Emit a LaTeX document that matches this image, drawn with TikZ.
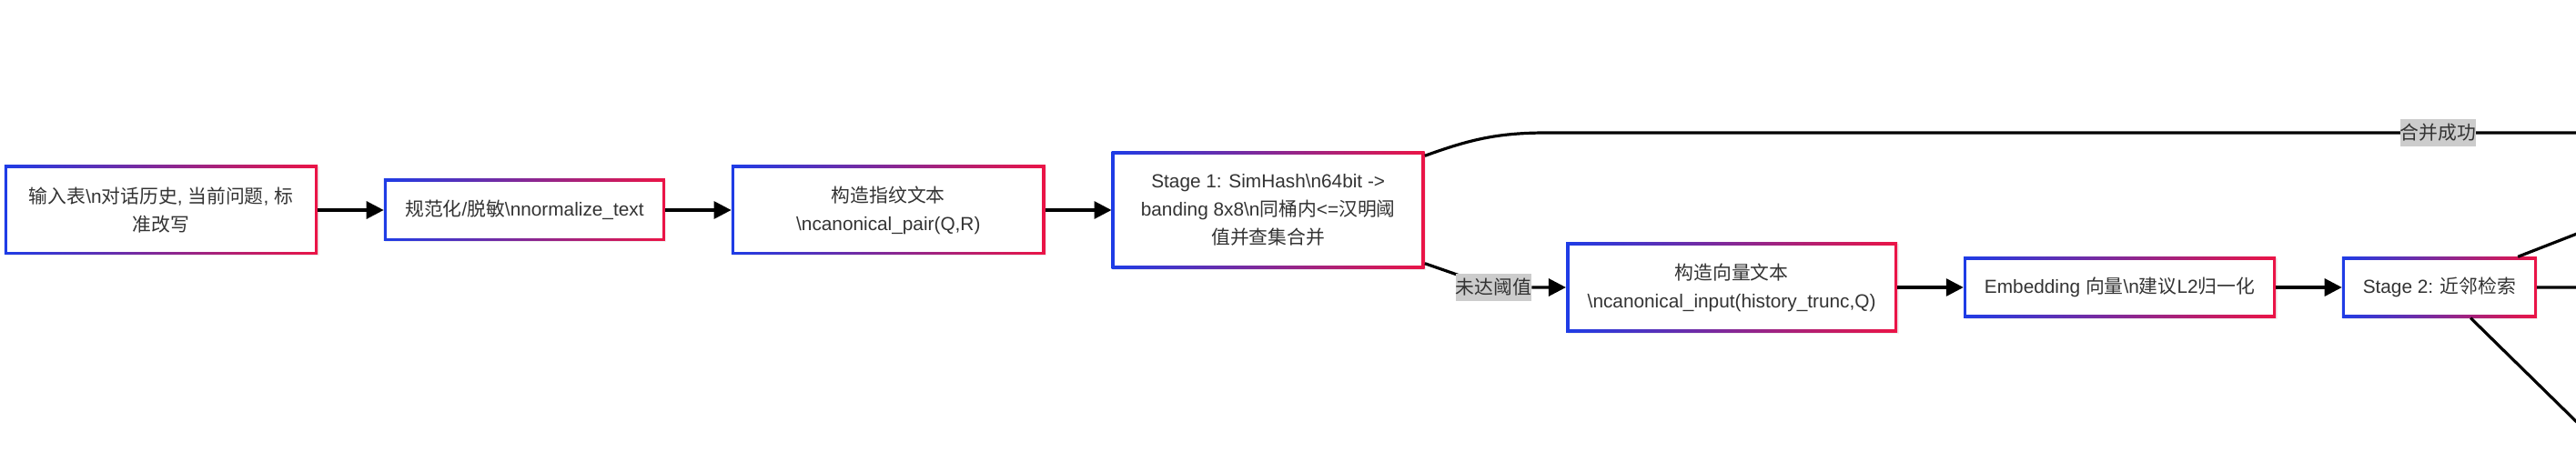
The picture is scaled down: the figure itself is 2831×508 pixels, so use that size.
\documentclass[tikz,border=0pt]{standalone}
\usepackage{fontspec}
\setmainfont{Liberation Sans}
\newfontfamily\cjk{Noto Sans CJK SC}
\usepackage{xcolor}
\usepackage{tikz}
\usetikzlibrary{arrows.meta,positioning,shadows}

\definecolor{gblue}{HTML}{1E3CE6}
\definecolor{gred}{HTML}{EB1446}
\definecolor{txt}{HTML}{333333}
\newcommand{\zh}[1]{{\cjk #1}}

\begin{document}
\begin{tikzpicture}[
    x=1bp, y=-1bp,
    node distance=72.5bp,
    box/.style={rectangle, inner sep=0pt, align=center, text=txt,
                left color=gblue, right color=gred,
                drop shadow={opacity=0.12, shadow xshift=1.5bp, shadow yshift=-1.5bp},
                path picture={\fill[white]
                  ([shift={(3.4bp,3.4bp)}]path picture bounding box.south west) rectangle
                  ([shift={(-3.4bp,-3.4bp)}]path picture bounding box.north east);},
                font=\fontsize{20.8bp}{31bp}\selectfont},
    lbl/.style={fill=gray!40, text=txt, inner sep=0pt, minimum height=30bp,
                font=\fontsize{20.8bp}{31bp}\selectfont},
    arr/.style={-{Triangle[length=19bp, width=19bp]}, line width=3.2bp},
    link/.style={line width=3.2bp},
]
\useasboundingbox (0,0) rectangle (2831,508);
\clip (0,0) rectangle (2831,508);

% top row: preparation and stage 1
\node[box, minimum width=344bp, minimum height=98bp] (in) at (177,231)
  {\zh{输入表}\textbackslash n\zh{对话历史}, \zh{当前问题}, \zh{标}\\\zh{准改写}};
\node[box, minimum width=309bp, minimum height=68bp, right=of in] (norm)
  {\zh{规范化}/\zh{脱敏}\textbackslash nnormalize\_text};
\node[box, minimum width=345bp, minimum height=98bp, right=of norm] (fp)
  {\zh{构造指纹文本}\\\textbackslash ncanonical\_pair(Q,R)};
\node[box, minimum width=344bp, minimum height=129bp, right=of fp] (st1)
  {Stage 1: SimHash\textbackslash n64bit ->\\banding 8x8\textbackslash n\zh{同桶内}<=\zh{汉明阈}\\\zh{值并查集合并}};

% lower row: vector path and stage 2
\node[box, minimum width=364bp, minimum height=99bp, right=155bp of st1, yshift=-85bp] (vec)
  {\zh{构造向量文本}\\\textbackslash ncanonical\_input(history\_trunc,Q)};
\node[box, minimum width=343bp, minimum height=67bp, right=of vec] (emb)
  {Embedding \zh{向量}\textbackslash n\zh{建议}L2\zh{归一化}};
\node[box, minimum width=214bp, minimum height=67bp, right=of emb] (st2)
  {Stage 2: \zh{近邻检索}};

% free ends (targets lie outside the page)
\coordinate (bend) at (1700,146);
\coordinate (mergeto) at (3670,146);
\coordinate (nohitc) at (1641.5,316);
\coordinate (outa) at (2950,211);
\coordinate (outb) at (2950,316);
\coordinate (outc) at (2950,580);

% main flow
\draw[arr] (in) -- (norm);
\draw[arr] (norm) -- (fp);
\draw[arr] (fp) -- (st1);

% stage 1 branches
\draw[link] ([yshift=-5bp]st1.north east) to[out=20,in=180] (bend) -- (mergeto);
\node[lbl] (merged) at (2679.5,146) {\zh{合并成功}};
\draw[link] ([yshift=6bp]st1.south east) -- (nohitc);
\node[lbl] (nohit) at (nohitc) {\zh{未达阈值}};
\draw[arr] (nohit) -- (vec);
\draw[arr] (vec) -- (emb);
\draw[arr] (emb) -- (st2);

% stage 2 outputs
\draw[link] (st2) -- (outa);
\draw[link] (st2) -- (outb);
\draw[link] (st2) -- (outc);

\end{tikzpicture}
\end{document}
